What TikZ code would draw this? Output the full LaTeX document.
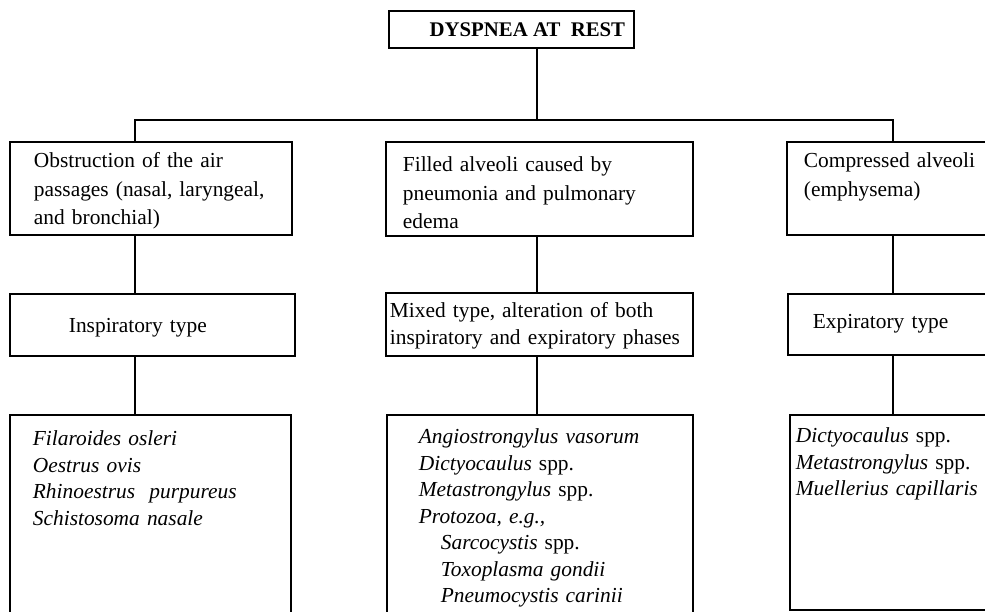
\documentclass[tikz,border=0pt]{standalone}
\usepackage{fontspec}
\setmainfont{Liberation Serif}
\usetikzlibrary{calc, positioning}

\tikzset{
  cell/.style={draw, line width=0.9pt, anchor=north west, inner ysep=0pt, align=left,
    font=\fontsize{10.7}{13.25}\selectfont},
  wide/.style={font=\fontsize{10.7}{14.2}\selectfont},
  link/.style={line width=0.9pt}
}

\begin{document}
\begin{tikzpicture}[x=0.5pt, y=-0.5pt]
  \clip (0,0) rectangle (985,611);

  % title
  \node[draw, line width=0.9pt, anchor=north west, inner sep=0pt, minimum width=122.5pt,
    minimum height=18.5pt, font=\fontsize{10.4}{13}\selectfont\bfseries]
    (rest) at (388,10) {\hspace*{16pt}DYSPNEA AT\ \ REST};

  % causes
  \node[cell, wide, inner xsep=12pt, text width=117pt, text height=13pt, text depth=33.5pt]
    (obst) at (9,141) {Obstruction of the air\\passages (nasal, laryngeal,\\and bronchial)};
  \node[cell, wide, inner xsep=8.5pt, text width=136.5pt, text height=15pt, text depth=32pt]
    (filled) at (385,141) {Filled alveoli caused by\\pneumonia and pulmonary\\edema};
  \node[cell, wide, inner xsep=8.5pt, text width=103pt, text height=13pt, text depth=33.5pt]
    (comp) at (786,141) {Compressed alveoli\\(emphysema)};

  % type of dyspnea
  \node[cell, inner xsep=29.5pt, text width=83.5pt, text height=19.5pt, text depth=11.5pt]
    (insp) at (9,293) {Inspiratory type};
  \node[cell, inner xsep=2pt, text width=149.5pt, text height=12.5pt, text depth=19pt]
    (mixed) at (385,292) {Mixed type, alteration of both\\inspiratory and expiratory phases};
  \node[cell, inner xsep=12.5pt, text width=100pt, text height=17.5pt, text depth=13pt]
    (expir) at (787,293) {Expiratory type};

  % parasites
  \node[cell, inner xsep=11.5pt, text width=117.5pt, text height=15.5pt, text depth=104.5pt]
    (parL) at (9,414) {\textit{Filaroides osleri}\\\textit{Oestrus ovis}\\
    \textit{Rhinoestrus\ \ purpureus}\\\textit{Schistosoma nasale}};
  \node[cell, inner xsep=16pt, text width=121pt, text height=14.5pt, text depth=105.5pt]
    (parM) at (386,414) {\textit{Angiostrongylus vasorum}\\\textit{Dictyocaulus} spp.\\
    \textit{Metastrongylus} spp.\\\textit{Protozoa, e.g.,}\\
    \hspace*{11pt}\textit{Sarcocystis} spp.\\\hspace*{11pt}\textit{Toxoplasma gondii}\\
    \hspace*{11pt}\textit{Pneumocystis carinii}};
  \node[cell, inner xsep=3pt, text width=114pt, text height=14pt, text depth=83.5pt]
    (parR) at (789,414) {\textit{Dictyocaulus} spp.\\\textit{Metastrongylus} spp.\\
    \textit{Muellerius capillaris}};

  % connectors
  \coordinate (hub) at (537,120);
  \coordinate (hubL) at (135,120);
  \coordinate (hubR) at (893,120);
  \draw[link] (rest.south -| hub) -- (hub);
  \draw[link] (hubL |- obst.north) -- (hubL) -- (hubR) -- (hubR |- comp.north);
  \draw[link] (obst.south -| hubL) -- (insp.north -| hubL);
  \draw[link] (insp.south -| hubL) -- (parL.north -| hubL);
  \draw[link] (filled.south -| hub) -- (mixed.north -| hub);
  \draw[link] (mixed.south -| hub) -- (parM.north -| hub);
  \draw[link] (comp.south -| hubR) -- (expir.north -| hubR);
  \draw[link] (expir.south -| hubR) -- (parR.north -| hubR);
\end{tikzpicture}
\end{document}
